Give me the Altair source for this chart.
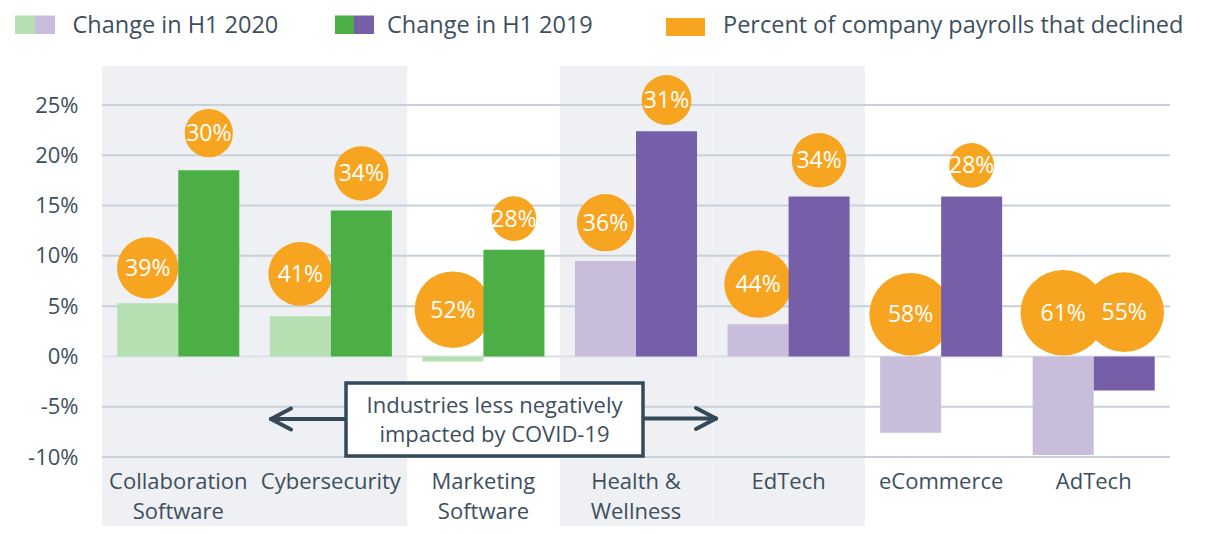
import altair as alt
import pandas as pd

# ---------------- data ----------------
categories = ["Collaboration Software", "Cybersecurity", "Marketing Software",
              "Health & Wellness", "EdTech", "eCommerce", "AdTech"]
years = ["H1 2020", "H1 2019"]
change_h1_2020 = [5.3, 4.0, -0.5, 9.5, 3.2, -7.6, -9.8]
change_h1_2019 = [18.5, 14.5, 10.6, 22.4, 15.9, 15.9, -3.4]
declined_h1_2020 = [39, 41, 52, 36, 44, 58, 61]
declined_h1_2019 = [30, 34, 28, 31, 34, 28, 55]
bubble_level_2020 = [8.8, 8.2, 4.65, 13.3, 7.2, 4.2, 4.35]
bubble_level_2019 = [22.2, 18.2, 13.7, 25.5, 19.5, 19.0, 4.4]
palette_group = ["green", "green", "green", "purple", "purple", "purple", "purple"]
shaded = [True, True, False, True, True, False, False]
y_ticks = [-10, -5, 0, 5, 10, 15, 20, 25]
legend_labels = ["Change in H1 2020", "Change in H1 2019",
                 "Percent of company payrolls that declined"]
annotation_lines = ["Industries less negatively", "impacted by COVID-19"]
wrapped = {"Collaboration Software": ["Collaboration", "Software"],
           "Marketing Software": ["Marketing", "Software"],
           "Health & Wellness": ["Health &", "Wellness"]}

# ---------------- styles ----------------
FONT = "Open Sans"
TEXT = "#3d4f5d"
DARK = "#34495a"
LIGHT_GREEN, GREEN = "#b6e0b1", "#4caf46"
LAVENDER, PURPLE = "#c8bedc", "#765ea8"
ORANGE = "#f7a520"
BAND = "#eef0f4"
GRID = "#c8d1d9"
ZERO = "#dde1e5"

W, H = 1068, 352

rows = []
for i, c in enumerate(categories):
    for y, ch, dec, lvl in [(years[0], change_h1_2020[i], declined_h1_2020[i], bubble_level_2020[i]),
                            (years[1], change_h1_2019[i], declined_h1_2019[i], bubble_level_2019[i])]:
        rows.append({"category": c, "year": y, "change": ch, "declined": dec,
                     "bubble": lvl, "label": f"{dec}%",
                     "key": f"{palette_group[i]} {y}"})
df = pd.DataFrame(rows)
bands_df = pd.DataFrame({"category": categories, "shaded": shaded})
grid_df = pd.DataFrame({"tick": y_ticks})

yscale = alt.Scale(domain=[-10, 25], nice=False, zero=False)
xscale = alt.Scale(domain=categories, paddingInner=0.2, paddingOuter=0.1)
xoff = alt.XOffset("year:N", sort=years, scale=alt.Scale(paddingInner=0, paddingOuter=0))

label_expr = " : ".join(
    [f"datum.label == '{k}' ? {v!r}" for k, v in wrapped.items()] + ["datum.label"])

x_axis = alt.Axis(title=None, domain=False, ticks=False, labelAngle=0, labelFont=FONT,
                  labelFontSize=22, labelColor=TEXT, labelPadding=14, labelLineHeight=30.5,
                  labelLimit=0, labelExpr=label_expr, zindex=1)
y_axis = alt.Axis(title=None, domain=False, ticks=False, grid=False, values=y_ticks,
                  labelExpr="datum.value + '%'", labelFont=FONT, labelFontSize=22,
                  labelColor=TEXT, labelPadding=24, zindex=1)

X = alt.X("category:N", sort=categories, scale=xscale, axis=x_axis)

bands = alt.Chart(bands_df).transform_filter("datum.shaded").mark_rect(color=BAND).encode(
    x=alt.X("category:N", scale=alt.Scale(domain=categories, paddingInner=0, paddingOuter=0),
            axis=None),
    y=alt.value(-39), y2=alt.value(440))

grid = alt.Chart(grid_df).mark_rule(strokeWidth=2).encode(
    y=alt.Y("tick:Q", scale=yscale, axis=y_axis),
    x=alt.value(0), x2=alt.value(W),
    color=alt.condition("datum.tick == 0", alt.value(ZERO), alt.value(GRID)))

bubbles = alt.Chart(df).mark_circle(opacity=1, color=ORANGE).encode(
    x=X, xOffset=xoff,
    y=alt.Y("bubble:Q", scale=yscale, axis=y_axis),
    size=alt.Size("declined:Q", scale=alt.Scale(domain=[28, 61], range=[2007, 7297], zero=False),
                  legend=None))

bars = alt.Chart(df).mark_bar().encode(
    x=X, xOffset=xoff,
    y=alt.Y("change:Q", scale=yscale, axis=y_axis),
    color=alt.Color("key:N", legend=None,
                    scale=alt.Scale(domain=["green H1 2020", "green H1 2019",
                                            "purple H1 2020", "purple H1 2019"],
                                    range=[LIGHT_GREEN, GREEN, LAVENDER, PURPLE])))

labels = alt.Chart(df).mark_text(color="white", font=FONT, fontSize=23, baseline="middle",
                                 align="center", dy=1).encode(
    x=X, xOffset=xoff,
    y=alt.Y("bubble:Q", scale=yscale, axis=y_axis),
    text="label:N")

main = alt.layer(grid, bubbles, bars, labels)

one = alt.Data(values=[{}])

def rect(x, x2, y, y2, **kw):
    return alt.Chart(one).mark_rect(**kw).encode(
        x=alt.value(x), x2=alt.value(x2), y=alt.value(y), y2=alt.value(y2))

def seg(x, x2, y, y2):
    return alt.Chart(one).mark_rule(color=DARK, strokeWidth=4, strokeCap="round").encode(
        x=alt.value(x), x2=alt.value(x2), y=alt.value(y), y2=alt.value(y2))

def txt(x, y, t, **kw):
    return alt.Chart(one).mark_text(font=FONT, color=TEXT, **kw).encode(
        x=alt.value(x), y=alt.value(y), text=alt.value(t))

annotation = [
    seg(243, 169, 314, 314), seg(169, 189, 314, 303.5), seg(169, 189, 314, 324.5),
    seg(542, 614, 313.5, 313.5), seg(614, 594, 313.5, 303), seg(614, 594, 313.5, 324),
    rect(244, 541, 278, 351, fill="white", stroke=DARK, strokeWidth=3.5),
    txt(392.5, 308.3, annotation_lines, fontSize=22, align="center", baseline="alphabetic",
        lineHeight=29),
]

LEG_BASE = -72
LEG_FS = 23.5
legend = [
    rect(-87, -67, -89.5, -71, color=LIGHT_GREEN),
    rect(-67, -47, -89.5, -71, color=LAVENDER),
    txt(-29.5, LEG_BASE, legend_labels[0], fontSize=LEG_FS, align="left", baseline="alphabetic"),
    rect(233, 252, -89.5, -71, color=GREEN),
    rect(252, 272, -89.5, -71, color=PURPLE),
    txt(285, LEG_BASE, legend_labels[1], fontSize=LEG_FS, align="left", baseline="alphabetic"),
    rect(564, 603, -87, -69, color=ORANGE),
    txt(621, LEG_BASE, legend_labels[2], fontSize=LEG_FS, align="left", baseline="alphabetic"),
]

chart = alt.layer(bands, main, *annotation, *legend).resolve_scale(x="independent").properties(
    width=W, height=H,
    autosize=alt.AutoSizeParams(type="none"),
    padding={"left": 94, "top": 97, "right": 34, "bottom": 69},
    background="white",
).configure_view(stroke=None)

chart.save("out.html", embed_options={"renderer": "svg", "actions": False})
